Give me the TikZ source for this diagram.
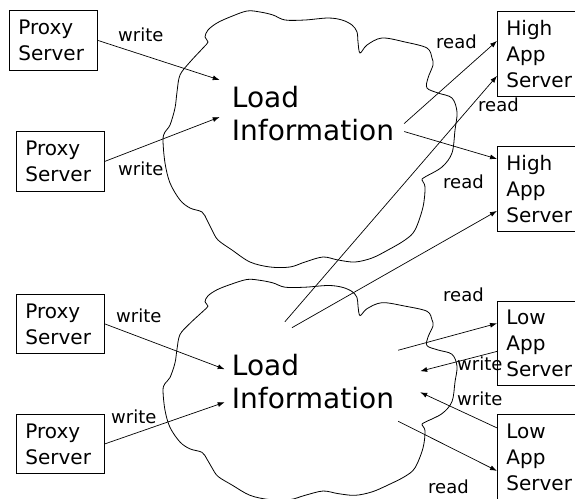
\documentclass[tikz,border=0pt]{standalone}
\usepackage{fontspec}
\setmainfont{DejaVu Sans}
\usetikzlibrary{arrows.meta}

\tikzset{
  srvbox/.style={draw, line width=0.8pt, anchor=north west, align=left,
    inner xsep=9pt, inner ysep=0pt, font=\fontsize{20}{26}\selectfont},
  lbl/.style={anchor=base west, inner sep=0pt, font=\fontsize{18}{20}\selectfont},
  loadtxt/.style={anchor=north west, align=left, inner sep=0pt,
    font=\fontsize{28}{33}\selectfont},
  conn/.style={line width=0.7pt, -{Latex[length=7pt,width=5pt]}},
  cloudline/.style={line width=0.8pt}
}

\newcommand{\cloudpts}{(208,42) (205,37) (208,30) (217,23) (230,17) (247,11)
  (260,12) (273,15) (285,20) (305,20) (328,18) (342,20) (352,25) (357,32)
  (358,42) (360,53) (367,45) (382,38) (405,42) (427,48) (432,58) (433,65)
  (428,78) (427,88) (438,93) (452,98) (457,112) (455,130) (452,153) (442,167)
  (425,177) (422,180) (425,187) (423,207) (415,230) (405,240) (388,250)
  (372,258) (355,262) (338,260) (323,257) (305,262) (290,267) (270,267)
  (250,262) (232,250) (218,240) (212,230) (207,220) (202,212) (190,208)
  (180,200) (170,183) (165,163) (163,140) (165,132) (170,125) (175,108)
  (177,92) (180,75) (190,62) (203,48)}

\begin{document}
\begin{tikzpicture}[x=1pt,y=-1pt]
\useasboundingbox (0,0) rectangle (575,498);

% Clouds
\draw[cloudline] plot[smooth cycle, tension=0.55] coordinates {\cloudpts};
\begin{scope}[shift={(0,270)}, yscale=0.86]
\draw[cloudline] plot[smooth cycle, tension=0.55] coordinates {\cloudpts};
\end{scope}

% Load information
\node[loadtxt] (ti) at (231.7,86) {Load\\Information};
\node[loadtxt] (bi) at (231.7,353.7) {Load\\Information};

% Proxy servers
\node[srvbox, text width=70pt, minimum height=60pt] (p1) at (9,10) {Proxy\\Server};
\node[srvbox, text width=70pt, minimum height=60pt] (p2) at (16,131) {Proxy\\Server};
\node[srvbox, text width=70pt, minimum height=59pt] (p3) at (16,294) {Proxy\\Server};
\node[srvbox, text width=70pt, minimum height=59pt] (p4) at (16,414) {Proxy\\Server};

% App servers
\node[srvbox, text width=90pt, minimum height=85pt] (h1) at (497,11) {High\\App\\Server};
\node[srvbox, text width=90pt, minimum height=85pt] (h2) at (497,146) {High\\App\\Server};
\node[srvbox, text width=90pt, minimum height=84pt] (l1) at (497,301) {Low\\App\\Server};
\node[srvbox, text width=90pt, minimum height=85pt] (l2) at (497,414) {Low\\App\\Server};

% Top arrows
\draw[conn] (p1.east) -- ([xshift=-12pt,yshift=6pt]ti.north west);
\draw[conn] (p2.east) -- ([xshift=-12pt,yshift=-3.5pt]ti.west);
\draw[conn] ([xshift=10pt,yshift=-10pt]ti.east) -- ([yshift=13pt]h1.west);
\draw[conn] ([xshift=10pt,yshift=-18pt]ti.east) -- ([yshift=30pt]h2.west);
\draw[conn] ([xshift=-28pt,yshift=32pt]bi.north) -- ([yshift=-22pt]h1.west);
\draw[conn] ([xshift=-21pt,yshift=26pt]bi.north) -- ([yshift=-22pt]h2.west);

% Bottom arrows
\draw[conn] (p3.east) -- ([xshift=-7pt,yshift=12pt]bi.west);
\draw[conn] (p4.east) -- ([xshift=-7pt,yshift=-21pt]bi.west);
\draw[conn] ([xshift=4pt,yshift=31pt]bi.east) -- ([yshift=20pt]l1.west);
\draw[conn] ([yshift=-8pt]l1.west) -- ([xshift=26pt,yshift=10pt]bi.east);
\draw[conn] ([yshift=29pt]l2.west) -- ([xshift=26pt,yshift=-11pt]bi.east);
\draw[conn] ([xshift=4pt,yshift=-40pt]bi.east) -- ([yshift=-14pt]l2.west);

% Labels
\node[lbl] (wr1) at (118,41.7) {write};
\node[lbl] (wr2) at (118,175) {write};
\node[lbl] (rd1) at (436,48.3) {read};
\node[lbl] (rd2) at (478,111.7) {read};
\node[lbl] (rd3) at (443,188.3) {read};
\node[lbl] (wr3) at (116,322) {write};
\node[lbl] (wr4) at (111,423) {write};
\node[lbl] (rd4) at (443,301.3) {read};
\node[lbl] (wr5) at (457,370.7) {write};
\node[lbl] (wr6) at (457,405.3) {write};
\node[lbl] (rd5) at (428,493) {read};

\end{tikzpicture}
\end{document}
